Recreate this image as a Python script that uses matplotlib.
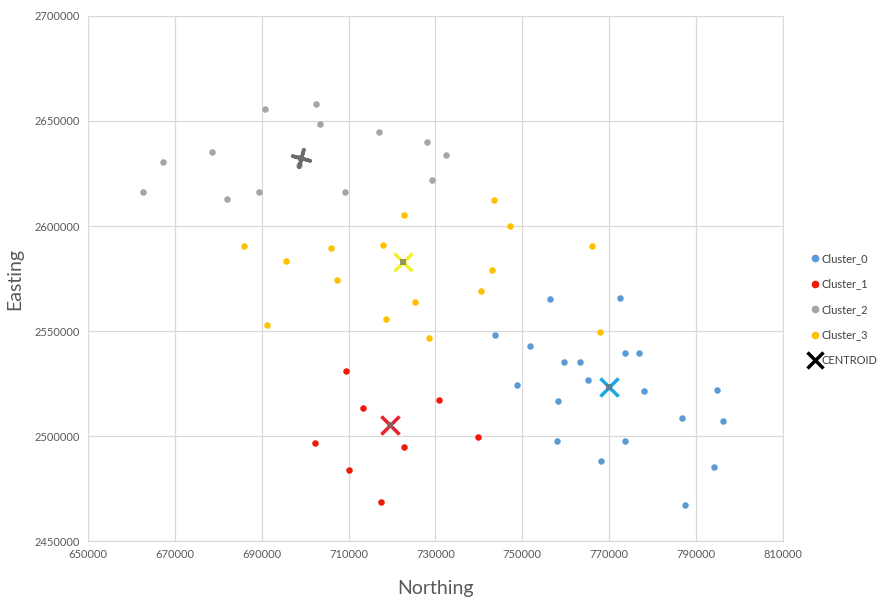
import matplotlib.pyplot as plt
from matplotlib.lines import Line2D
from matplotlib.ticker import FuncFormatter

plt.rcParams['font.family'] = ['Lato', 'DejaVu Sans']

# cluster points (Northing, Easting)
c0_x = [756437, 772529, 743793, 751839, 759655, 763333, 773678, 776897, 765172, 748851,
        778046, 758276, 758046, 768161, 773678, 786782, 794828, 796207, 794138, 787471]
c0_y = [2565238, 2565714, 2548095, 2542857, 2535238, 2535238, 2539524, 2539524, 2526667, 2524286,
        2521429, 2516667, 2497619, 2488095, 2497619, 2508571, 2521905, 2507143, 2485238, 2467143]

c1_x = [709310, 713218, 730920, 702184, 722644, 710000, 717356, 739885]
c1_y = [2530952, 2513333, 2517143, 2496667, 2494762, 2483810, 2468571, 2499524]

c2_x = [662644, 667241, 678506, 681954, 689310, 690690, 702414, 703333, 698506, 709080,
        716897, 728161, 729310, 732529]
c2_y = [2616190, 2630476, 2635238, 2612857, 2616190, 2655714, 2658095, 2648571, 2629048, 2616190,
        2644762, 2640000, 2621905, 2633810]

c3_x = [685862, 695517, 705862, 707241, 691149, 717816, 722644, 718506, 725402, 728621,
        743563, 747241, 743103, 740575, 766092, 767931]
c3_y = [2590476, 2583333, 2589524, 2574286, 2552857, 2590952, 2605238, 2555714, 2563810, 2546667,
        2612381, 2600000, 2579048, 2569048, 2590476, 2549524]

# centroids: cluster 0..3
cen_x = [770000, 719425, 698966, 722414]
cen_y = [2523333, 2505238, 2632381, 2582857]

colors = ['#5b9bd5', '#f01a0a', '#a5a5a5', '#ffc000']
cen_colors = ['#1aa7e6', '#e8202a', '#6b6b6b', '#f2f230']
names = ['Cluster_0', 'Cluster_1', 'Cluster_2', 'Cluster_3']

fig = plt.figure(figsize=(8.86, 6.01), dpi=100)
ax = fig.add_axes([0.0993, 0.0998, 0.7844, 0.8736])

for xs, ys, col in zip([c0_x, c1_x, c2_x, c3_x], [c0_y, c1_y, c2_y, c3_y], colors):
    ax.scatter(xs, ys, s=22, color=col, zorder=3, linewidths=0)

# centroid markers
for i in range(4):
    mk = (4, 2, -15) if i == 2 else 'x'
    ax.scatter(cen_x[i], cen_y[i], s=170, marker=mk, color=cen_colors[i],
               linewidths=2.5, zorder=4)
    ax.scatter(cen_x[i], cen_y[i], s=14, marker='s', color='#707070', alpha=0.7,
               linewidths=0, zorder=5)

ax.set_xlim(650000, 810000)
ax.set_ylim(2450000, 2700000)
ax.set_xticks(range(650000, 810001, 20000))
ax.set_yticks(range(2450000, 2700001, 50000))
fmt = FuncFormatter(lambda v, p: f'{int(v)}')
ax.xaxis.set_major_formatter(fmt)
ax.yaxis.set_major_formatter(fmt)
ax.grid(True, color='#d9d9d9', linewidth=0.9)
ax.set_axisbelow(True)
for s in ax.spines.values():
    s.set_color('#d9d9d9')
ax.tick_params(length=0, labelsize=8, colors='#595959', pad=6)

ax.set_xlabel('Northing', fontsize=14, color='#595959', labelpad=14)
ax.set_ylabel('Easting', fontsize=14, color='#595959', labelpad=8)

handles = [Line2D([], [], marker='o', linestyle='none', color=c, markersize=4.5) for c in colors]
handles.append(Line2D([], [], marker='x', linestyle='none', color='black',
                      markersize=11, markeredgewidth=2.5))
leg = fig.legend(handles, names + ['CENTROID'], loc='center left',
                 bbox_to_anchor=(0.905, 0.485), frameon=False, fontsize=8,
                 handlelength=0.6, handletextpad=0.3, labelspacing=1.3,
                 labelcolor='#404040')

fig.savefig('out.png', dpi=100)
